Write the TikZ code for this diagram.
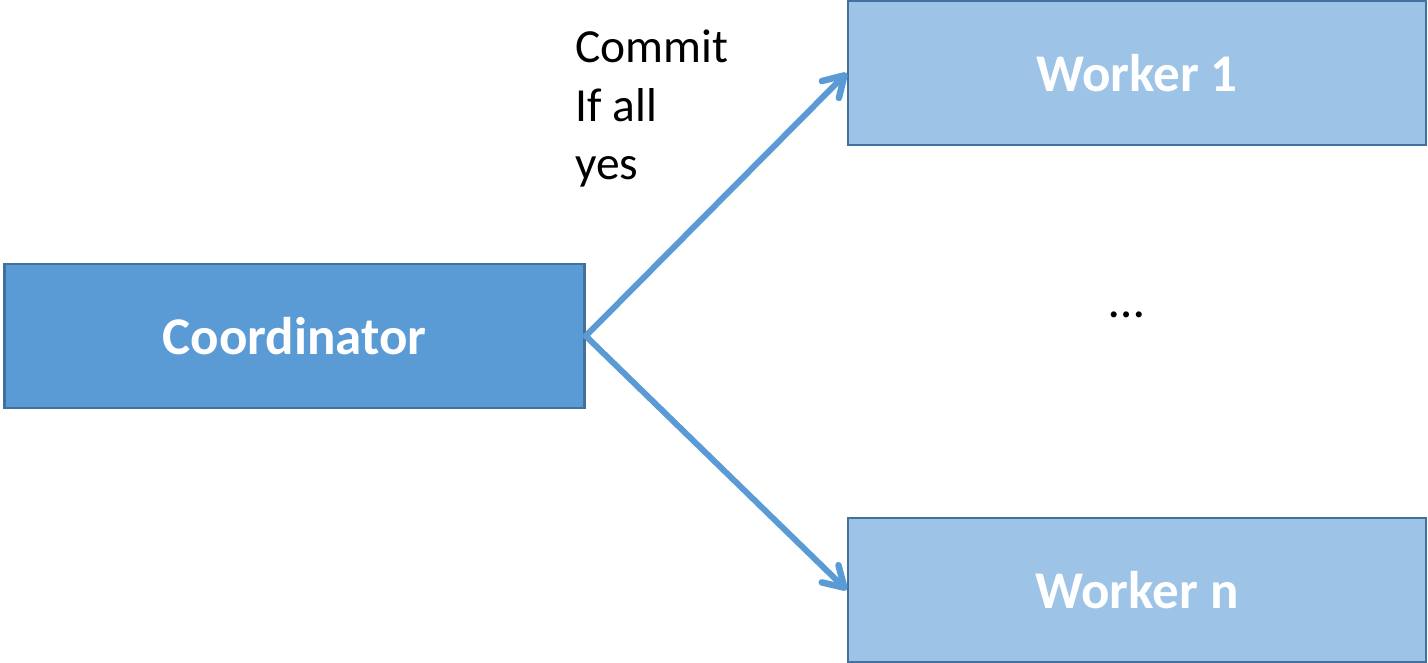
\documentclass[tikz,border=0pt]{standalone}
\usepackage{fontspec}
\setmainfont{Carlito}
\usetikzlibrary{arrows.meta}
\definecolor{darkfill}{HTML}{5B9BD5}
\definecolor{lightfill}{HTML}{9DC3E6}
\definecolor{edge}{HTML}{41719C}
\tikzset{
  box/.style={draw=edge, line width=2.5pt, minimum width=580pt, minimum height=144pt,
    inner sep=0pt, text=white, font=\fontsize{53}{60}\selectfont\bfseries},
  coordbox/.style={box, fill=darkfill},
  workerbox/.style={box, fill=lightfill, minimum width=578pt},
  msg/.style={draw=darkfill, line width=6pt, line cap=round,
    -{Straight Barb[length=20pt, width=24pt, line width=6.5pt, line cap=round, line join=round]}},
}
\begin{document}
\begin{tikzpicture}[x=1pt, y=-1pt]
  \useasboundingbox (0,0) rectangle (1428,663);
  \node[coordbox] (coord) at (294.5,336) {Coordinator};
  \node[workerbox] (w1) at (1137,73) {Worker 1};
  \node[workerbox] (wn) at (1137,590) {Worker n};
  \node[font=\fontsize{50}{60}\selectfont] (dots) at (1127,315) {\dots};
  \coordinate (src) at (coord.east);
  \draw[msg] (src) -- (w1.west);
  \draw[msg] (src) -- (wn.west);
  \node[anchor=north west, inner sep=0pt, align=left,
    font=\fontsize{47.5}{58.5}\selectfont] (label) at (575,30) {Commit\\If all\\yes};
\end{tikzpicture}
\end{document}
